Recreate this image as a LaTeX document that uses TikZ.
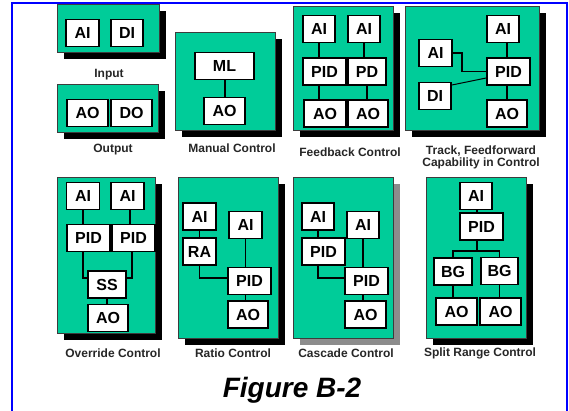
\documentclass[tikz,border=0pt]{standalone}
\usepackage{fontspec}
\setmainfont{Liberation Sans}
\usepackage{tikz}
\usetikzlibrary{positioning, calc}
\definecolor{cPanel}{RGB}{0,204,153}
\definecolor{cFrame}{RGB}{0,0,255}
\definecolor{cEdge}{RGB}{60,60,60}
\tikzset{
	blk/.style={draw=black, line width=1.8pt, fill=white, minimum width=#1, minimum height=27pt, inner sep=0pt, text centered, font=\bfseries\fontsize{16}{16}\selectfont},
	blk/.default=33pt,
	panel/.style={draw=cEdge, line width=0.6pt, fill=cPanel},
	wire/.style={line width=1.6pt, black},
	caption/.style={font=\bfseries\fontsize{12}{14}\selectfont, align=center, text=black!85},
}

\begin{document}
\begin{tikzpicture}[x=1pt, y=-1pt]
	\useasboundingbox (0,0) rectangle (569,410);
	\draw[cFrame, line width=2.5pt] (12,411) -- (12,3) -- (567,3) -- (567,411);
	% panels with their shadows
	\foreach \xa/\ya/\xb/\yb/\sh in {57/4/159/52/black, 57/84/158/132/black, 175/32/275/130/black,
		293/6/393/130/black, 405/6/539/130/black, 57/177/155/333/black, 178/177/278/338/black,
		293/177/393/338/black!45, 426/177/526/338/black} {
		\fill[\sh] (\xa+7,\ya+7) rectangle (\xb+7,\yb+7);
		\draw[panel] (\xa,\ya) rectangle (\xb,\yb);
	}
	% input / output
	\node[blk] (inAI) at (82.5,33) {AI};
	\node[blk=32pt] (inDI) at (127,33) {DI};
	\node[blk=41pt] (outAO) at (87.5,113) {AO};
	\node[blk=41pt] (outDO) at (131.5,113) {DO};
	\node[caption] (lInput) at (109,75) {Input};
	\node[caption] (lOutput) at (113,150) {Output};
	% manual
	\node[blk=59pt] (manML) at (224.5,66) {ML};
	\node[blk=41pt] (manAO) at (224.5,111) {AO};
	\draw[wire, line width=2pt] (manML.south) -- (manAO.north);
	\node[caption] (lManual) at (232,148) {Manual Control};
	% feedback
	\node[blk=32pt] (fbAIa) at (319,29) {AI};
	\node[blk=32pt] (fbAIb) at (364,29) {AI};
	\node[blk=43pt] (fbPID) at (324.5,71.5) {PID};
	\node[blk=38pt] (fbPD) at (367,71.5) {PD};
	\node[blk=42pt] (fbAOa) at (325,113.5) {AO};
	\node[blk=40pt] (fbAOb) at (368,113.5) {AO};
	\draw[wire, line width=1.2pt] (fbAIa.south) -- (fbAIa.south |- fbPID.north);
	\draw[wire, line width=1.2pt] (fbAIa.south |- fbPID.south) -- (fbAIa.south |- fbAOa.north);
	\draw[wire, line width=1.2pt] (fbPD.north -| fbAIb) -- (fbAIb.south);
	\draw[wire, line width=1.2pt] (fbPD.south) -- (fbPD.south |- fbAOb.north);
	\node[caption] (lFeedback) at (350,152) {Feedback Control};
	% track, feedforward
	\node[blk=32pt] (trAIa) at (503,29) {AI};
	\node[blk] (trAIb) at (435.5,53) {AI};
	\node[blk=43pt] (trPID) at (508.5,71.5) {PID};
	\node[blk=32pt] (trDI) at (435,96) {DI};
	\node[blk=40pt] (trAO) at (507,113.5) {AO};
	\draw[wire] (trAO.north |- trAIa.south) -- (trAO.north |- trPID.north);
	\draw[wire] (trAO.north |- trPID.south) -- (trAO.north);
	\draw[wire] (trAIb.east) -- ++(9,0) |- (trPID.west);
	\draw[wire, line width=1pt] ([yshift=11pt]trDI.east) -- ([yshift=-6.5pt]trPID.west);
	\node[caption] (lTrack) at (481,157) {Track, Feedforward\\[-2pt]Capability in Control};
	% override
	\node[blk] (ovAIa) at (83,196) {AI};
	\node[blk] (ovAIb) at (127.5,196) {AI};
	\node[blk=43pt] (ovPIDa) at (88.5,238) {PID};
	\node[blk=43pt] (ovPIDb) at (133.5,238) {PID};
	\node[blk=38pt] (ovSS) at (107,284.5) {SS};
	\node[blk=40pt] (ovAO) at (108,318) {AO};
	\draw[wire] (ovAIa.south) -- (ovAIa.south |- ovPIDa.north);
	\draw[wire] (ovAIb.south -| 130,0) -- (ovPIDb.north -| 130,0);
	\draw[wire] (ovPIDa.south -| ovAIa) |- ([yshift=6.5pt]ovSS.west);
	\draw[wire] (ovPIDb.south -| 132,0) |- ([yshift=6.5pt]ovSS.east);
	\draw[wire] (ovSS.south) -- (ovSS.south |- ovAO.north);
	\node[caption] (lOverride) at (113,353) {Override Control};
	% ratio
	\node[blk] (raAIa) at (199.5,216.5) {AI};
	\node[blk] (raRA) at (199.5,251.5) {RA};
	\node[blk] (raAIb) at (245.5,225) {AI};
	\node[blk=43pt] (raPID) at (249.5,281) {PID};
	\node[blk=40pt] (raAO) at (248,314.5) {AO};
	\draw[wire] (raAIa.south) -- (raRA.north);
	\draw[wire] (raRA.south) |- ([yshift=3pt]raPID.west);
	\draw[wire] (raAIb.south) -- (raAIb.south |- raPID.north);
	\draw[wire] (raAIb.south |- raPID.south) -- (raAIb.south |- raAO.north);
	\node[caption] (lRatio) at (233,353) {Ratio Control};
	% cascade
	\node[blk=32pt] (caAIa) at (318,216.5) {AI};
	\node[blk=43pt] (caPIDa) at (323.5,251.5) {PID};
	\node[blk=32pt] (caAIb) at (363,225) {AI};
	\node[blk=43pt] (caPIDb) at (366.5,281) {PID};
	\node[blk=41pt] (caAO) at (365.5,314.5) {AO};
	\draw[wire] (caAIa.south) -- (caAIa.south |- caPIDa.north);
	\draw[wire] (caPIDa.south -| caAIa) |- ([yshift=3pt]caPIDb.west);
	\draw[wire] (caAIb.south) -- (caAIb.south |- caPIDb.north);
	\draw[wire] (caAIb.south |- caPIDb.south) -- (caAIb.south |- caAO.north);
	\node[caption] (lCascade) at (346,353) {Cascade Control};
	% split range
	\node[blk=32pt] (spAI) at (476,196) {AI};
	\node[blk=43pt] (spPID) at (481.5,226.5) {PID};
	\node[blk=38pt] (spBGa) at (453,271.5) {BG};
	\node[blk=37pt] (spBGb) at (499.5,271) {BG};
	\node[blk=41pt] (spAOa) at (456.5,311.5) {AO};
	\node[blk=41pt] (spAOb) at (500.5,311.5) {AO};
	\coordinate (spJ) at (477,251);
	\draw[wire] (spAI.south -| spJ) -- (spPID.north -| spJ);
	\draw[wire] (spPID.south -| spJ) -- (spJ);
	\draw[wire] (spBGa.north) |- (spBGb.north |- spJ) -- (spBGb.north);
	\draw[wire] (spBGa.south) -- (spBGa.south |- spAOa.north);
	\draw[wire] (spBGb.south) -- (spBGb.south |- spAOb.north);
	\node[caption] (lSplit) at (480,353) {Split Range Control};
	% figure title
	\node[font=\bfseries\itshape\fontsize{28}{30}\selectfont] (lFig) at (292,390) {Figure B-2};
\end{tikzpicture}
\end{document}
